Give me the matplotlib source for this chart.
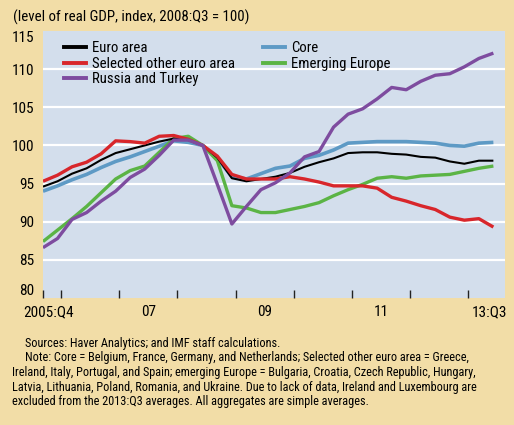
import matplotlib
matplotlib.use("Agg")
import matplotlib.pyplot as plt
import matplotlib.font_manager as fm
from matplotlib.lines import Line2D

names = {f.name for f in fm.fontManager.ttflist}
FONT = "DejaVu Sans"
for cand in ["Liberation Sans Narrow", "Roboto Condensed", "Open Sans Condensed", "Liberation Sans"]:
    if cand in names:
        FONT = cand
        break
plt.rcParams["font.family"] = [FONT, "DejaVu Sans"]

# ---- data (quarterly, 2005:Q4 .. 2013:Q3) ----
quarters = [f"{y}:Q{q}" for y in range(2005, 2014) for q in range(1, 5)][3:3 + 32]

euro_area = [94.6, 95.3, 96.3, 97.0, 98.1, 99.0, 99.5, 100.0, 100.5, 100.9, 100.7, 100.0,
             98.4, 95.7, 95.3, 95.6, 95.9, 96.4, 97.2, 97.8, 98.3, 99.0, 99.1, 99.1,
             98.9, 98.8, 98.5, 98.4, 97.9, 97.6, 98.0, 98.0]
core = [94.0, 94.7, 95.5, 96.2, 97.1, 97.9, 98.5, 99.2, 99.9, 100.6, 100.4, 100.0,
        98.3, 95.9, 95.6, 96.3, 97.0, 97.3, 98.3, 98.7, 99.4, 100.3, 100.4, 100.5,
        100.5, 100.5, 100.4, 100.3, 100.0, 99.9, 100.3, 100.4]
selected_other = [95.3, 96.1, 97.2, 97.8, 98.9, 100.6, 100.5, 100.3, 101.2, 101.3, 100.8, 100.0,
                  98.6, 96.2, 95.6, 95.6, 95.6, 95.9, 95.6, 95.2, 94.7, 94.7, 94.7, 94.4,
                  93.2, 92.7, 92.1, 91.6, 90.6, 90.2, 90.4, 89.3]
emerging_europe = [87.4, 88.9, 90.4, 92.0, 93.8, 95.6, 96.7, 97.3, 99.1, 100.9, 101.2, 100.0,
                   98.0, 92.1, 91.8, 91.2, 91.2, 91.6, 92.0, 92.5, 93.4, 94.2, 94.9, 95.7,
                   95.9, 95.7, 96.0, 96.1, 96.2, 96.6, 97.0, 97.3]
russia_turkey = [86.6, 87.8, 90.3, 91.2, 92.7, 94.0, 95.8, 96.9, 98.7, 100.7, 100.7, 100.0,
                 94.9, 89.7, 92.0, 94.2, 95.1, 96.4, 98.5, 99.2, 102.4, 104.1, 104.8, 106.1,
                 107.6, 107.3, 108.4, 109.2, 109.4, 110.3, 111.4, 112.1]

yticks = [80, 85, 90, 95, 100, 105, 110, 115]
xlabels = ["2005:Q4", "07", "09", "11", "13:Q3"]
xlabel_pos = [0.4, 7.25, 15.25, 23.25, 30.7]
xtick_pos = [0, 1.25, 5.25, 9.25, 13.25, 17.25, 21.25, 25.25, 29.25]

title = "(level of real GDP, index, 2008:Q3 = 100)"
notes = [
    (25, "Sources: Haver Analytics; and IMF staff calculations."),
    (25, "Note: Core = Belgium, France, Germany, and Netherlands; Selected other euro area = Greece,"),
    (12, "Ireland, Italy, Portugal, and Spain; emerging Europe = Bulgaria, Croatia, Czech Republic, Hungary,"),
    (12, "Latvia, Lithuania, Poland, Romania, and Ukraine. Due to lack of data, Ireland and Luxembourg are"),
    (12, "excluded from the 2013:Q3 averages. All aggregates are simple averages."),
]

BG = "#F2DDA7"
AXBG = "#D3DEEC"
C_BLACK = "#000000"
C_CORE = "#5E9AC5"
C_RED = "#D8262B"
C_GREEN = "#5BB445"
C_PURPLE = "#7E4C9F"

W, H = 514, 425
fig = plt.figure(figsize=(W / 100, H / 100), dpi=100, facecolor=BG)
L, R, T, B = 43, 505, 31, 298
ax = fig.add_axes([L / W, 1 - B / H, (R - L) / W, (B - T) / H])
ax.set_facecolor(AXBG)

x = list(range(len(quarters)))
ax.plot(x, core, color=C_CORE, lw=2.6, zorder=3, label="Core", solid_capstyle="butt")
ax.plot(x, emerging_europe, color=C_GREEN, lw=2.4, zorder=4, label="Emerging Europe", solid_capstyle="butt")
ax.plot(x, euro_area, color=C_BLACK, lw=1.5, zorder=5, label="Euro area", solid_capstyle="butt")
ax.plot(x, selected_other, color=C_RED, lw=2.4, zorder=6, label="Selected other euro area", solid_capstyle="butt")
ax.plot(x, russia_turkey, color=C_PURPLE, lw=2.4, zorder=7, label="Russia and Turkey", solid_capstyle="butt")

ax.set_xlim(0, 31.8)
ax.set_ylim(80, 115)
for s in ax.spines.values():
    s.set_visible(False)

ax.set_yticks(yticks)
ax.set_yticklabels([str(v) for v in yticks])
ax.tick_params(axis="y", length=0, pad=6, labelsize=11)
labs = ax.get_yticklabels()
labs[0].set_verticalalignment("bottom")
labs[-1].set_verticalalignment("top")
for yv in yticks[1:-1]:
    ax.axhline(yv, color="white", lw=1.6, zorder=1)

ax.set_xticks(xtick_pos)
ax.set_xticklabels([])
ax.tick_params(axis="x", which="major", direction="in", length=6, width=1, color="#222222")
ax.set_xticks(xlabel_pos, minor=True)
ax.set_xticklabels(xlabels, minor=True)
ax.tick_params(axis="x", which="minor", length=0, pad=5, labelsize=11)

handles = {h.get_label(): h for h in ax.get_lines()}
order = ["Euro area", "Selected other euro area", "Russia and Turkey", "Core", "Emerging Europe"]
leg_handles = [Line2D([], [], color=handles[k].get_color(), lw=2.8) for k in order]
ax.legend(leg_handles, order, ncol=2, loc="upper left",
          bbox_to_anchor=((64 - L) / (R - L), 1 - (41.5 - T) / (B - T)),
          frameon=False, fontsize=10.6, handlelength=1.5, handletextpad=0.4,
          columnspacing=1.9, labelspacing=0.08, borderpad=0, borderaxespad=0)

fig.text(13 / W, 1 - 17 / H, title, fontsize=10.7, va="center", ha="left")
ys = [343, 358, 372.5, 387, 401.5]
for (xx, line), yy in zip(notes, ys):
    fig.text(xx / W, 1 - yy / H, line, fontsize=8.8, va="center", ha="left")

fig.savefig("out.png", dpi=100, facecolor=BG)
